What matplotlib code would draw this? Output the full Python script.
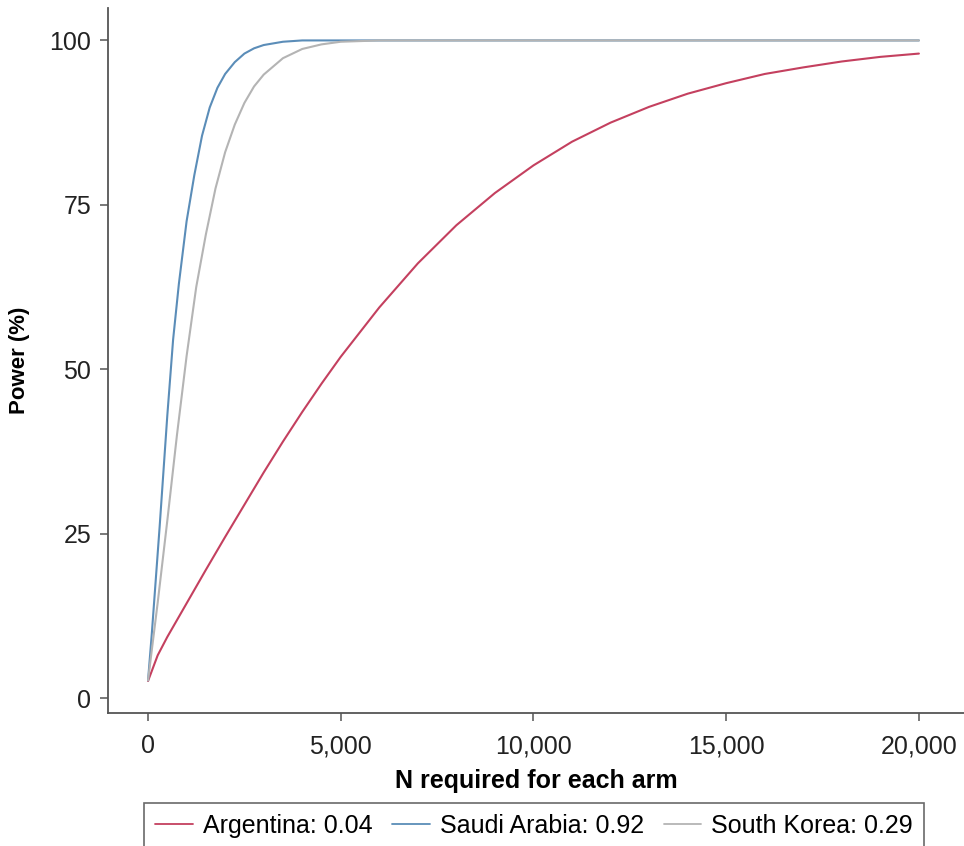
"""Power curves by country: N required per arm vs power."""

import matplotlib

matplotlib.use("Agg")
import matplotlib.pyplot as plt
from matplotlib.ticker import StrMethodFormatter

plt.rcParams["font.family"] = ["Liberation Sans", "DejaVu Sans"]

# values
n_argentina = [0, 250, 500, 1000, 1500, 2000, 2500, 3000, 3500, 4000, 4500, 5000,
               6000, 7000, 8000, 9000, 10000, 11000, 12000, 13000, 14000, 15000,
               16000, 17000, 18000, 19000, 20000]
power_argentina = [2.6, 6.5, 9.3, 14.4, 19.5, 24.5, 29.4, 34.3, 39.0, 43.5, 47.8, 51.9,
                   59.4, 66.1, 71.9, 76.8, 81.0, 84.6, 87.5, 89.9, 91.9, 93.5,
                   94.9, 95.9, 96.8, 97.5, 98.0]

n_saudi = [0, 100, 200, 300, 400, 500, 650, 800, 1000, 1200, 1400, 1600, 1800,
           2000, 2250, 2500, 2750, 3000, 3500, 4000, 5000, 10000, 15000, 20000]
power_saudi = [2.7, 10.0, 18.0, 26.0, 34.5, 43.0, 54.5, 63.0, 72.5, 79.5, 85.5, 89.8, 92.8,
               94.9, 96.7, 98.0, 98.8, 99.3, 99.8, 100, 100, 100, 100, 100]

n_korea = [0, 250, 500, 750, 1000, 1250, 1500, 1750, 2000, 2250, 2500, 2750, 3000,
           3500, 4000, 4500, 5000, 6000, 10000, 15000, 20000]
power_korea = [2.7, 14.5, 27.0, 40.0, 52.0, 62.5, 70.5, 77.5, 83.0, 87.2, 90.5, 93.0, 94.8,
               97.3, 98.7, 99.4, 99.8, 100, 100, 100, 100]

labels = ["Argentina: 0.04", "Saudi Arabia: 0.92", "South Korea: 0.29"]
colors = ["#c4405f", "#5b8db8", "#b4b4b4"]

x_ticks = [0, 5000, 10000, 15000, 20000]
y_ticks = [0, 25, 50, 75, 100]

fig = plt.figure(figsize=(9.64, 8.46), dpi=100)
ax = fig.add_axes([0.112, 0.157, 0.888, 0.8333])

series = [(n_argentina, power_argentina), (n_saudi, power_saudi), (n_korea, power_korea)]
for (xs, ys), label, color in zip(series, labels, colors):
    ax.plot(xs, ys, color=color, linewidth=1.5, label=label,
            solid_joinstyle="round", solid_capstyle="round")

ax.set_xlim(-1040, 21170)
ax.set_ylim(-2.3, 104.9)
ax.set_xticks(x_ticks)
ax.set_yticks(y_ticks)
ax.xaxis.set_major_formatter(StrMethodFormatter("{x:,.0f}"))

for side in ["top", "right"]:
    ax.spines[side].set_visible(False)
for side in ["left", "bottom"]:
    ax.spines[side].set_color("#555555")
    ax.spines[side].set_linewidth(1.3)

ax.tick_params(axis="both", direction="out", length=6, width=1.1, color="#555555",
               labelsize=18, labelcolor="#222222")
ax.tick_params(axis="x", pad=9)
ax.tick_params(axis="y", pad=6)

ax.set_xlabel("N required for each arm", fontsize=18, fontweight="bold", labelpad=8)
ax.set_ylabel("Power (%)", fontsize=16, fontweight="bold", labelpad=14)

leg = fig.legend(loc="upper center", bbox_to_anchor=(0.554, 0.051), ncol=3,
                 fontsize=18, frameon=True, fancybox=False, handlelength=1.5,
                 columnspacing=0.8, handletextpad=0.4, borderpad=0.45,
                 borderaxespad=0.0)
leg.get_frame().set_edgecolor("#444444")
leg.get_frame().set_linewidth(1.2)
for line in leg.get_lines():
    line.set_linewidth(1.3)

fig.savefig("out.png", dpi=100)
